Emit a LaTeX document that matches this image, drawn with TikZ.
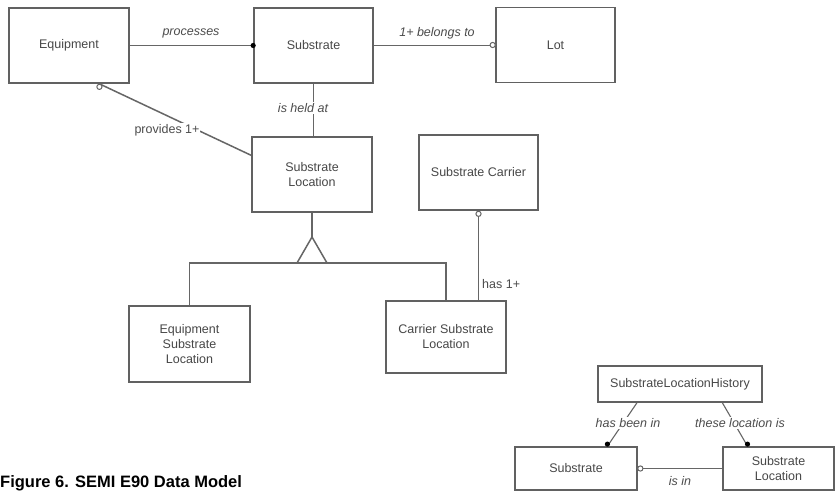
\documentclass[tikz,border=0pt]{standalone}
\usepackage{fontspec}
\setmainfont{Liberation Sans}
\usetikzlibrary{calc}
\begin{document}
\begin{tikzpicture}[x=1pt,y=-1pt,
  ent/.style={draw=black!62,line width=1.7pt,fill=white,inner sep=2pt,align=center,
    font=\fontsize{12.5}{15}\selectfont,text=black!72},
  conn/.style={draw=black!60,line width=1.5pt},
  lab/.style={font=\fontsize{12.5}{15}\selectfont\itshape,text=black!70,inner sep=1pt},
  labw/.style={lab,fill=white},
  fdot/.style={fill=black},
  odot/.style={draw=black!60,line width=1pt,fill=white}]
\useasboundingbox (0,0) rectangle (838,492);
\clip (0,0) rectangle (838,492);
\fill[white] (0,0) rectangle (838,492);

% entities
\node[ent,minimum width=120pt,minimum height=75pt] (eq)  at (69,45.5)   {Equipment};
\node[ent,minimum width=119pt,minimum height=75pt] (sub) at (313.5,45.5) {Substrate};
\node[ent,minimum width=119pt,minimum height=75pt] (lot) at (555.5,45)   {Lot};
\node[ent,minimum width=120pt,minimum height=75pt] (sl)  at (312,174.5)  {Substrate\\Location};
\node[ent,minimum width=119pt,minimum height=75pt] (sc)  at (478.5,172.5) {Substrate Carrier};
\node[ent,minimum width=121pt,minimum height=76pt] (esl) at (189.5,344)  {Equipment\\Substrate\\Location};
\node[ent,minimum width=120pt,minimum height=72pt] (csl) at (446,337)    {Carrier Substrate\\Location};
\node[ent,minimum width=164pt,minimum height=36pt] (slh) at (680,384)    {SubstrateLocationHistory};
\node[ent,minimum width=122pt,minimum height=43pt] (sub2) at (576,468.5) {Substrate};
\node[ent,minimum width=111pt,minimum height=43pt] (sl2)  at (778.5,468.5) {Substrate\\Location};

% processes
\draw[conn] (eq.east) -- (sub.west);
\fill[fdot] (sub.west) circle (2.6pt);
\node[lab] (lprocesses) at (191,33) {processes};

% belongs to
\draw[conn] (sub.east) -- (sub.east -| lot.west);
\draw[odot] ($(lot.west)+(-2.5,0)$) circle (2.6pt);
\node[lab] (lbelongs) at (437,33) {1+ belongs to};

% is held at
\draw[conn] (sub.south) -- (sub.south |- sl.north);
\node[labw] (lheld) at (303,108) {is held at};

% provides
\coordinate (eqp) at ($(eq.south east)!0.25!(eq.south west)$);
\coordinate (slp) at ($(sl.north west)!0.25!(sl.south west)$);
\draw[conn] (eqp) -- (slp);
\draw[odot] ($(eqp)+(0,3)$) circle (2.6pt);
\node[labw,font=\fontsize{12.5}{15}\selectfont] (lprov) at (167,130) {provides 1+};

% generalization
\coordinate (apex) at (312,237);
\coordinate (bl) at (297,263);
\coordinate (br) at (327,263);
\draw[conn] (sl.south) -- (apex);
\draw[conn] (bl) -- (apex) -- (br);
\draw[conn] (esl.north) -- (esl.north |- bl) -- (csl.north |- bl) -- (csl.north);

% has 1+
\coordinate (scb) at (sc.south);
\draw[conn] (scb) -- (scb |- csl.north);
\draw[odot] ($(scb)+(0,3)$) circle (2.6pt);
\node[lab,font=\fontsize{12.5}{15}\selectfont,anchor=west] (lhas) at (481,284) {has 1+};

% bottom group
\coordinate (h1) at ($(slh.south west)!0.24!(slh.south east)$);
\coordinate (h2) at ($(slh.south west)!0.756!(slh.south east)$);
\coordinate (s1) at ($(sub2.north west)!0.754!(sub2.north east)$);
\coordinate (s2) at ($(sl2.north west)!0.225!(sl2.north east)$);
\draw[conn,line width=1.1pt] (h1) -- (s1);
\draw[conn,line width=1.1pt] (h2) -- (s2);
\fill[fdot] ($(s1)+(0,-2)$) circle (2.6pt);
\fill[fdot] ($(s2)+(0,-2)$) circle (2.6pt);
\node[labw] (lbeen) at (628,423) {has been in};
\node[labw] (lthese) at (740,423) {these location is};
\draw[conn] (sub2.east) -- (sl2.west);
\draw[odot] ($(sub2.east)+(2.5,0)$) circle (2.6pt);
\node[lab] (lisin) at (680,481) {is in};

% caption
\node[anchor=base west,inner sep=0pt,font=\fontsize{16.5}{20}\selectfont\bfseries] (cap) at (0,487.5) {Figure 6. SEMI E90 Data Model};
\end{tikzpicture}
\end{document}
